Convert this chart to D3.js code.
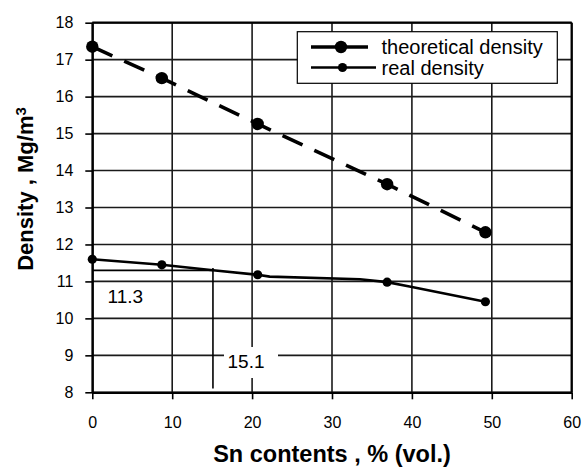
<!DOCTYPE html>
<html>
<head>
<meta charset="utf-8">
<script src="https://cdn.jsdelivr.net/npm/d3@7"></script>
<style>
  body { margin: 0; background: #fff; }
  svg { display: block; font-family: "Liberation Sans", Arial, sans-serif; }
</style>
</head>
<body>
<div id="chart"></div>
<script>
// measured points (Sn vol.% vs density)
const snContent = [0, 8.7, 20.7, 36.9, 49.2];
const theoreticalDensity = [17.35, 16.5, 15.26, 13.63, 12.33];
const realDensity = [11.6, 11.45, 11.18, 10.98, 10.45];

// traced path of the real density curve (it bends between the markers)
const realTraceX = [0, 8.7, 15.1, 20.7, 22.2, 33.5, 36.9, 39.7, 49.2];
const realTraceY = [11.6, 11.45, 11.3, 11.18, 11.13, 11.06, 10.98, 10.86, 10.45];

const xTicks = [0, 10, 20, 30, 40, 50, 60];
const yTicks = [8, 9, 10, 11, 12, 13, 14, 15, 16, 17, 18];

// annotation: 11.3 Mg/m3 reached at 15.1 % Sn
const markDensity = 11.3;
const markSn = 15.1;

const width = 582, height = 471;
const margin = {left: 92.3, right: 10.3, top: 22.7, bottom: 78.7};

const svg = d3.select("#chart").append("svg")
  .attr("width", width)
  .attr("height", height);

const x = d3.scaleLinear().domain([0, 60]).range([margin.left, width - margin.right]);
const y = d3.scaleLinear().domain([8, 18]).range([height - margin.bottom, margin.top]);

// grid
const grid = svg.append("g").attr("stroke", "#1a1a1a").attr("stroke-width", 1.6);
grid.selectAll(".hg").data(yTicks).enter().append("line")
  .attr("x1", x(0)).attr("x2", x(60))
  .attr("y1", d => y(d)).attr("y2", d => y(d));
grid.selectAll(".vg").data(xTicks).enter().append("line")
  .attr("y1", y(8)).attr("y2", y(18))
  .attr("x1", d => x(d)).attr("x2", d => x(d));

// frame on top and right
svg.append("line").attr("x1", x(0)).attr("x2", x(60)).attr("y1", y(18)).attr("y2", y(18))
  .attr("stroke", "#000").attr("stroke-width", 2.2);
svg.append("line").attr("x1", x(60)).attr("x2", x(60)).attr("y1", y(18)).attr("y2", y(8))
  .attr("stroke", "#000").attr("stroke-width", 2.2);

// axes
const xAxis = svg.append("g")
  .attr("transform", `translate(0,${y(8)})`)
  .call(d3.axisBottom(x).tickValues(xTicks).tickSize(7).tickPadding(17).tickSizeOuter(0));
const yAxis = svg.append("g")
  .attr("transform", `translate(${x(0)},0)`)
  .call(d3.axisLeft(y).tickValues(yTicks).tickSize(7).tickPadding(12).tickSizeOuter(0));

[xAxis, yAxis].forEach(a => {
  a.select(".domain").attr("stroke", "#000").attr("stroke-width", 2.2);
  a.selectAll(".tick line").attr("stroke", "#000").attr("stroke-width", 1.6);
  a.selectAll(".tick text").attr("fill", "#000")
    .style("font-size", "16px").style("font-family", "Liberation Sans, Arial, sans-serif");
});

// annotation lines
svg.append("line")
  .attr("x1", x(0)).attr("x2", x(markSn))
  .attr("y1", y(markDensity)).attr("y2", y(markDensity))
  .attr("stroke", "#000").attr("stroke-width", 1.6);
svg.append("line")
  .attr("x1", x(markSn)).attr("x2", x(markSn))
  .attr("y1", y(8.1)).attr("y2", y(11.36))
  .attr("stroke", "#000").attr("stroke-width", 1.6);

svg.append("text")
  .attr("x", 107.5).attr("y", 302.5)
  .style("font-size", "19px")
  .text(markDensity.toFixed(1));

svg.append("rect")
  .attr("x", 224).attr("y", 347).attr("width", 54).attr("height", 31)
  .attr("fill", "#fff");
svg.append("text")
  .attr("x", 227.5).attr("y", 367.5)
  .style("font-size", "19px")
  .text(markSn.toFixed(1));

// theoretical density (dashed)
const theo = snContent.map((s, i) => [s, theoreticalDensity[i]]);
const real = snContent.map((s, i) => [s, realDensity[i]]);
const realTrace = realTraceX.map((s, i) => [s, realTraceY[i]]);

const line = d3.line().x(d => x(d[0])).y(d => y(d[1]));

svg.append("path")
  .datum(theo)
  .attr("d", line)
  .attr("fill", "none")
  .attr("stroke", "#000")
  .attr("stroke-width", 3.6)
  .attr("stroke-dasharray", "22,13");

svg.append("g").selectAll("circle").data(theo).enter().append("circle")
  .attr("cx", d => x(d[0])).attr("cy", d => y(d[1]))
  .attr("r", 6.2).attr("fill", "#000");

// real density (solid)
svg.append("path")
  .datum(realTrace)
  .attr("d", line)
  .attr("fill", "none")
  .attr("stroke", "#000")
  .attr("stroke-width", 2.6);

svg.append("g").selectAll("circle").data(real).enter().append("circle")
  .attr("cx", d => x(d[0])).attr("cy", d => y(d[1]))
  .attr("r", 4.6).attr("fill", "#000");

// legend
const legend = svg.append("g").attr("id", "legend");
legend.append("rect")
  .attr("x", 297.3).attr("y", 31.7).attr("width", 260).attr("height", 51.6)
  .attr("fill", "#fff").attr("stroke", "#000").attr("stroke-width", 1.2);

legend.append("line").attr("x1", 311).attr("x2", 368).attr("y1", 47).attr("y2", 47)
  .attr("stroke", "#000").attr("stroke-width", 3.6);
legend.append("circle").attr("cx", 341).attr("cy", 47).attr("r", 6.2).attr("fill", "#000");
legend.append("text").attr("x", 381.5).attr("y", 54)
  .style("font-size", "20px").text("theoretical density");

legend.append("line").attr("x1", 311).attr("x2", 376).attr("y1", 67.5).attr("y2", 67.5)
  .attr("stroke", "#000").attr("stroke-width", 2.6);
legend.append("circle").attr("cx", 342.5).attr("cy", 67.5).attr("r", 4.6).attr("fill", "#000");
legend.append("text").attr("x", 381.5).attr("y", 74.5)
  .style("font-size", "20px").text("real density");

// axis titles
svg.append("text")
  .attr("x", 332).attr("y", 462)
  .attr("text-anchor", "middle")
  .style("font-size", "23.5px").style("font-weight", "bold")
  .text("Sn contents , % (vol.)");

const yt = svg.append("text")
  .attr("transform", "translate(33,189) rotate(-90)")
  .attr("text-anchor", "middle")
  .style("font-size", "22px").style("font-weight", "bold");
yt.append("tspan").text("Density , Mg/m");
yt.append("tspan").attr("dy", "-0.45em").style("font-size", "15px").text("3");
</script>
</body>
</html>
